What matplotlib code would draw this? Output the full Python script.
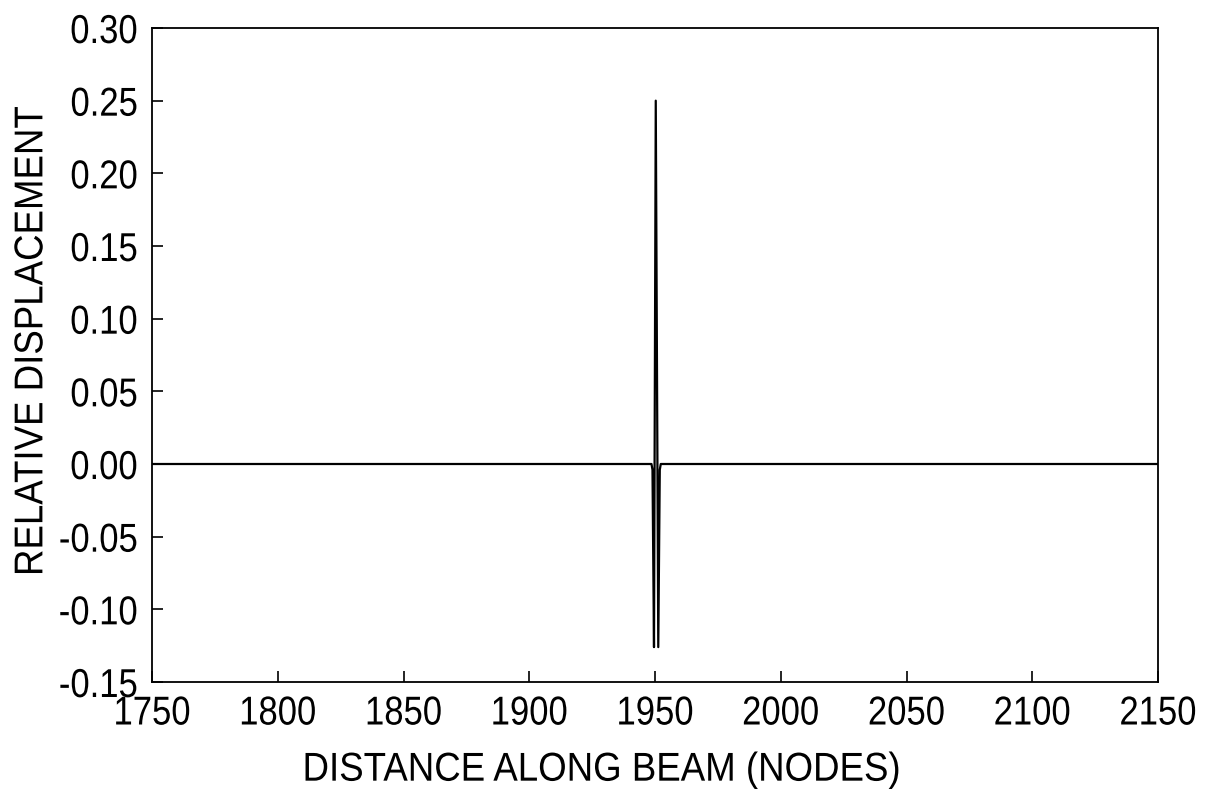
import matplotlib
matplotlib.use("Agg")
import matplotlib.pyplot as plt
from matplotlib.patheffects import AbstractPathEffect
from matplotlib.transforms import Affine2D

# Data
nodes = [1750, 1948.6, 1949.0, 1949.6, 1950.3, 1951.3, 1951.9, 1952.3, 2150]
displacement = [0.0, 0.0, -0.004, -0.126, 0.250, -0.126, -0.004, 0.0, 0.0]

x_ticks = [1750, 1800, 1850, 1900, 1950, 2000, 2050, 2100, 2150]
y_ticks = [-0.15, -0.10, -0.05, 0.00, 0.05, 0.10, 0.15, 0.20, 0.25, 0.30]
x_label = "DISTANCE ALONG BEAM (NODES)"
y_label = "RELATIVE DISPLACEMENT"

plt.rcParams['font.family'] = ['Liberation Sans', 'DejaVu Sans']


class Condense(AbstractPathEffect):
    """Squeeze text along its reading direction to imitate a narrow face."""
    def __init__(self, s=0.86, anchor="center", vertical=False):
        super().__init__()
        self.s = s
        self.anchor = anchor
        self.vertical = vertical

    def draw_path(self, renderer, gc, tpath, affine, rgbFace=None):
        ext = tpath.get_extents(affine)
        if self.vertical:
            c = (ext.y0 + ext.y1) / 2
            t = Affine2D().translate(0, -c).scale(1, self.s).translate(0, c)
        else:
            c = {"left": ext.x0, "center": (ext.x0 + ext.x1) / 2,
                 "right": ext.x1}[self.anchor]
            t = Affine2D().translate(-c, 0).scale(self.s, 1).translate(c, 0)
        renderer.draw_path(gc, tpath, affine + t, rgbFace)


fig = plt.figure(figsize=(12.18, 7.97), dpi=100)
ax = fig.add_axes([152/1218, 1-682/797, (1158-152)/1218, (682-28)/797])
ax.plot(nodes, displacement, color="black", lw=1.6)
ax.set_xlim(1750, 2150)
ax.set_ylim(-0.15, 0.30)
ax.set_xticks(x_ticks)
ax.set_xticklabels([str(t) for t in x_ticks])
ax.set_yticks(y_ticks)
ax.set_yticklabels([f"{t:.2f}" for t in y_ticks])
ax.tick_params(direction="in", length=8, width=1.2, labelsize=29,
               top=False, right=False)
ax.tick_params(axis="x", pad=9)
ax.tick_params(axis="y", pad=10)
for s in ax.spines.values():
    s.set_linewidth(1.3)

for lab in ax.get_xticklabels():
    lab.set_path_effects([Condense(0.86, "center")])
for lab in ax.get_yticklabels():
    lab.set_path_effects([Condense(0.86, "right")])

ax.set_xlabel(x_label, fontsize=29)
ax.set_ylabel(y_label, fontsize=29)
ax.xaxis.set_label_coords(0.446, -0.105)
ax.yaxis.set_label_coords(-0.101, 0.52)
ax.xaxis.label.set_path_effects([Condense(0.91, "center")])
ax.yaxis.label.set_path_effects([Condense(0.91, vertical=True)])

fig.savefig("out.png", dpi=100)
